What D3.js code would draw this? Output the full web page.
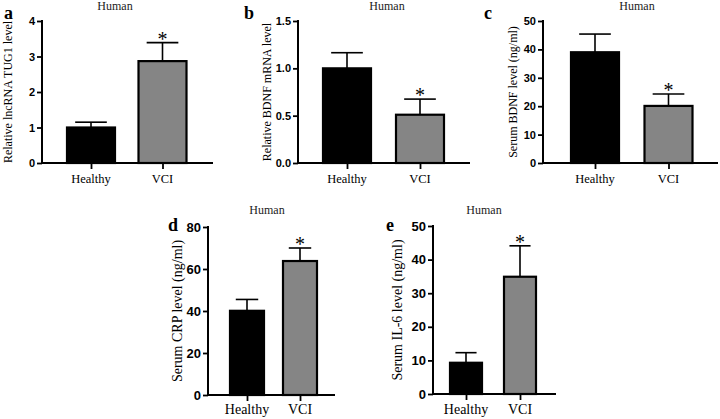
<!DOCTYPE html>
<html><head><meta charset="utf-8">
<script src="https://cdn.jsdelivr.net/npm/d3@7/dist/d3.min.js"></script>
<style>
html,body{margin:0;padding:0;background:#fff;}
svg{display:block;}
</style></head>
<body>
<svg id="chart" width="720" height="419"></svg>
<script>
// ---------- data ----------
const categories = ["Healthy", "VCI"];
const panelLetters = ["a", "b", "c", "d", "e"];
const panelTitle = "Human";
const yLabels = [
  "Relative lncRNA TUG1 level",
  "Relative BDNF mRNA level",
  "Serum BDNF level (ng/ml)",
  "Serum CRP level (ng/ml)",
  "Serum IL-6 level (ng/ml)"
];
const meanA = [1.0, 2.87];   const sdA = [0.15, 0.52];
const meanB = [1.0, 0.51];   const sdB = [0.165, 0.165];
const meanC = [39.0, 20.1];  const sdC = [6.4, 4.2];
const meanD = [40.1, 63.8];  const sdD = [5.4, 6.2];
const meanE = [9.3, 34.9];   const sdE = [3.0, 9.2];
const ticksA = [0, 1, 2, 3, 4];
const ticksB = [0.0, 0.5, 1.0, 1.5];
const ticksC = [0, 10, 20, 30, 40, 50];
const ticksD = [0, 20, 40, 60, 80];
const ticksE = [0, 10, 20, 30, 40, 50];
const significant = [false, true];

const means = [meanA, meanB, meanC, meanD, meanE];
const sds = [sdA, sdB, sdC, sdD, sdE];
const ticks = [ticksA, ticksB, ticksC, ticksD, ticksE];
const tickFormats = [d3.format("d"), d3.format(".1f"), d3.format("d"), d3.format("d"), d3.format("d")];

// ---------- layout ----------
const layout = [
  {x0: 42,  x1: 213, c: [91, 162.5], top: 21,  bot: 163, bw: 48, tickFs: 11, catFs: 12.5, ylFs: 12, ylX: 8,   titleX: 115, titleY: 10,  letX: 4,   letY: 19,  catY: 183},
  {x0: 298, x1: 470, c: [347, 420],  top: 21,  bot: 163, bw: 48, tickFs: 11, catFs: 12.5, ylFs: 12, ylX: 267, titleX: 387, titleY: 10,  letX: 244, letY: 19,  catY: 183},
  {x0: 543, x1: 718, c: [595, 668.5],top: 21,  bot: 163, bw: 48, tickFs: 11, catFs: 12.5, ylFs: 12, ylX: 513, titleX: 637, titleY: 10,  letX: 484, letY: 19,  catY: 183},
  {x0: 208, x1: 335, c: [247, 300],  top: 227, bot: 395, bw: 34, tickFs: 13, catFs: 14, ylFs: 14, ylX: 177, titleX: 267, titleY: 214, letX: 168, letY: 231, catY: 414},
  {x0: 433, x1: 556, c: [466, 520],  top: 226, bot: 394, bw: 32, tickFs: 13, catFs: 14, ylFs: 14, ylX: 397, titleX: 484, titleY: 214, letX: 386, letY: 231, catY: 414}
];

const svg = d3.select("#chart");
const fills = ["#000000", "#858585"];
const serif = "'Liberation Serif','Times New Roman',serif";
const sans = "'Liberation Sans',Arial,sans-serif";

layout.forEach((L, i) => {
  const g = svg.append("g");
  const yMax = d3.max(ticks[i]);
  const y = d3.scaleLinear().domain([0, yMax]).range([L.bot, L.top]);
  const x = d3.scalePoint().domain(categories).range(L.c).padding(0);

  categories.forEach((cat, j) => {
    const m = means[i][j], s = sds[i][j];
    const cx = x(cat);
    g.append("line").attr("x1", cx).attr("x2", cx)
      .attr("y1", y(m)).attr("y2", y(m + s))
      .attr("stroke", "#000").attr("stroke-width", 1.6);
    g.append("line").attr("x1", cx - L.bw * 0.33).attr("x2", cx + L.bw * 0.33)
      .attr("y1", y(m + s)).attr("y2", y(m + s))
      .attr("stroke", "#000").attr("stroke-width", 1.6);
    g.append("rect").attr("x", cx - L.bw / 2).attr("width", L.bw)
      .attr("y", y(m)).attr("height", y(0) - y(m))
      .attr("fill", fills[j]).attr("stroke", "#000").attr("stroke-width", 2.2);
    if (significant[j]) {
      g.append("text").attr("x", cx).attr("y", y(m + s) + 3)
        .attr("text-anchor", "middle").attr("font-family", serif)
        .attr("font-size", 20).attr("fill", "#000").text("*");
    }
  });

  // y axis
  const yAxis = d3.axisLeft(y).tickValues(ticks[i]).tickFormat(tickFormats[i]).tickSize(5).tickPadding(2);
  const ya = g.append("g").attr("transform", `translate(${L.x0},0)`).call(yAxis);
  ya.select(".domain").remove();
  ya.selectAll(".tick line").attr("stroke", "#000").attr("stroke-width", 1.8);
  ya.selectAll(".tick text").attr("font-family", sans).attr("font-weight", "bold")
    .attr("font-size", L.tickFs).attr("fill", "#000");
  g.append("line").attr("x1", L.x0).attr("x2", L.x0).attr("y1", L.top - 1).attr("y2", L.bot + 1)
    .attr("stroke", "#000").attr("stroke-width", 2);

  // x axis
  const xAxis = d3.axisBottom(x).tickSize(6).tickPadding(5).tickSizeOuter(0);
  const xa = g.append("g").attr("transform", `translate(0,${L.bot})`).call(xAxis);
  xa.select(".domain").remove();
  xa.selectAll(".tick line").attr("stroke", "#000").attr("stroke-width", 1.8);
  xa.selectAll(".tick text").remove();
  g.append("line").attr("x1", L.x0 - 1).attr("x2", L.x1).attr("y1", L.bot).attr("y2", L.bot)
    .attr("stroke", "#000").attr("stroke-width", 2);
  categories.forEach(cat => {
    g.append("text").attr("x", x(cat)).attr("y", L.catY)
      .attr("text-anchor", "middle").attr("font-family", serif)
      .attr("font-size", L.catFs).attr("fill", "#000").text(cat);
  });

  // y label
  g.append("text")
    .attr("transform", `translate(${L.ylX + L.ylFs * 0.35},${(L.top + L.bot) / 2}) rotate(-90)`)
    .attr("text-anchor", "middle").attr("font-family", serif)
    .attr("font-size", L.ylFs).attr("fill", "#000").text(yLabels[i]);

  // title
  g.append("text").attr("x", L.titleX).attr("y", L.titleY)
    .attr("text-anchor", "middle").attr("font-family", serif)
    .attr("font-size", 12).attr("fill", "#222").text(panelTitle);

  // letter
  g.append("text").attr("x", L.letX).attr("y", L.letY)
    .attr("font-family", serif).attr("font-weight", "bold")
    .attr("font-size", 18).attr("fill", "#000").text(panelLetters[i]);
});
</script>
</body></html>
